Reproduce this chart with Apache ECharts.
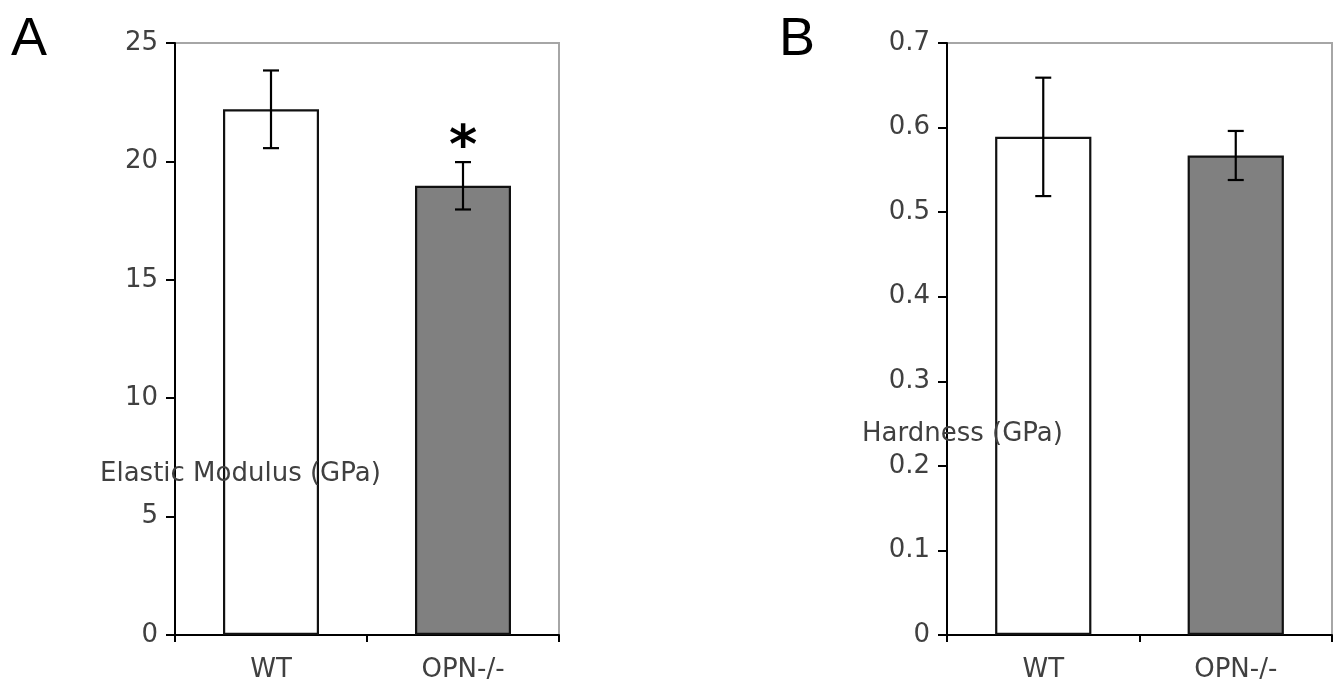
<!DOCTYPE html>
<html><head><meta charset="utf-8">
<script src="https://cdn.jsdelivr.net/npm/echarts@6/dist/echarts.min.js"></script>
<style>html,body{margin:0;padding:0;background:#fff}#c{width:1344px;height:692px}</style>
</head><body><div id="c"></div>
<script>
// ---- data ----
const categories = ['WT', 'OPN-/-'];
const modulusMean = [22.2, 18.97];
const modulusErr = [1.64, 1.0];
const modulusSig = ['', '*'];
const hardnessMean = [0.589, 0.567];
const hardnessErr = [0.070, 0.029];
const hardnessSig = ['', ''];
const modulusTicks = { min: 0, max: 25, interval: 5 };
const hardnessTicks = { min: 0, max: 0.7, interval: 0.1 };
const panelLabels = ['A', 'B'];
const yNames = ['Elastic Modulus (GPa)', 'Hardness (GPa)'];
const barColors = ['#ffffff', '#808080'];

const FONT = 'DejaVu Sans';
const TXT = '#404040';

function errRender(sig) {
  return function (params, api) {
    const i = api.value(0), m = api.value(1), e = api.value(2);
    const top = api.coord([i, m + e]);
    const bot = api.coord([i, m - e]);
    const x = top[0], w = 8;
    const st = { stroke: '#000', lineWidth: 2.2 };
    const ch = [
      { type: 'line', shape: { x1: x, y1: top[1], x2: x, y2: bot[1] }, style: st },
      { type: 'line', shape: { x1: x - w, y1: top[1], x2: x + w, y2: top[1] }, style: st },
      { type: 'line', shape: { x1: x - w, y1: bot[1], x2: x + w, y2: bot[1] }, style: st }
    ];
    const s = sig[params.dataIndex];
    if (s) ch.push({ type: 'text', x: x, y: top[1] - 13,
      style: { text: s, fill: '#000', font: 'bold 54px "DejaVu Sans"', textAlign: 'center', textVerticalAlign: 'middle' } });
    return { type: 'group', children: ch };
  };
}

function grid(left, right) {
  return { left: left, right: right, top: 43, bottom: 57, show: true,
    borderColor: '#a6a6a6', borderWidth: 2, backgroundColor: 'transparent', containLabel: false };
}
function xAxis(gi) {
  return { type: 'category', gridIndex: gi, data: categories, boundaryGap: true,
    axisLine: { lineStyle: { color: '#000', width: 2 } },
    axisTick: { show: true, length: 7, alignWithLabel: false, lineStyle: { color: '#000', width: 2 } },
    axisLabel: { color: TXT, fontFamily: FONT, fontSize: 26, margin: 22 },
    splitLine: { show: false } };
}
function yAxis(gi, t, fmt) {
  return { type: 'value', gridIndex: gi, min: t.min, max: t.max, interval: t.interval,
    axisLine: { show: true, lineStyle: { color: '#000', width: 2 } },
    axisTick: { show: true, length: 9, lineStyle: { color: '#000', width: 2 } },
    axisLabel: { color: TXT, fontFamily: FONT, fontSize: 26, margin: 17, formatter: fmt },
    splitLine: { show: false } };
}
function barData(means) {
  return means.map((v, i) => ({ value: v, itemStyle: { color: barColors[i] } }));
}
function errData(means, errs) {
  return means.map((v, i) => [i, v, errs[i]]);
}

const chart = echarts.init(document.getElementById('c'), null, { renderer: 'canvas' });
chart.setOption({
  animation: false,
  backgroundColor: '#fff',
  grid: [grid(175, 785), grid(947, 12)],
  xAxis: [xAxis(0), xAxis(1)],
  yAxis: [
    yAxis(0, modulusTicks, v => String(v)),
    yAxis(1, hardnessTicks, v => (v === 0 ? '0' : v.toFixed(1)))
  ],
  series: [
    { type: 'bar', xAxisIndex: 0, yAxisIndex: 0, barWidth: '50%', data: barData(modulusMean),
      itemStyle: { borderColor: '#111', borderWidth: 2.2 } },
    { type: 'custom', xAxisIndex: 0, yAxisIndex: 0, renderItem: errRender(modulusSig),
      data: errData(modulusMean, modulusErr), z: 5 },
    { type: 'bar', xAxisIndex: 1, yAxisIndex: 1, barWidth: '50%', data: barData(hardnessMean),
      itemStyle: { borderColor: '#111', borderWidth: 2.2 } },
    { type: 'custom', xAxisIndex: 1, yAxisIndex: 1, renderItem: errRender(hardnessSig),
      data: errData(hardnessMean, hardnessErr), z: 5 }
  ],
  graphic: [
    { type: 'text', left: 11, top: 13, style: { text: panelLabels[0], font: '54px "Liberation Sans"', fill: '#000' } },
    { type: 'text', left: 779, top: 13, style: { text: panelLabels[1], font: '54px "Liberation Sans"', fill: '#000' } },
    { type: 'text', x: 100, y: 474, z: 10, style: { text: yNames[0], font: '26px "DejaVu Sans"', fill: TXT, textVerticalAlign: 'middle' } },
    { type: 'text', x: 862, y: 434, z: 10, style: { text: yNames[1], font: '26px "DejaVu Sans"', fill: TXT, textVerticalAlign: 'middle' } }
  ]
});
</script>
</body></html>
